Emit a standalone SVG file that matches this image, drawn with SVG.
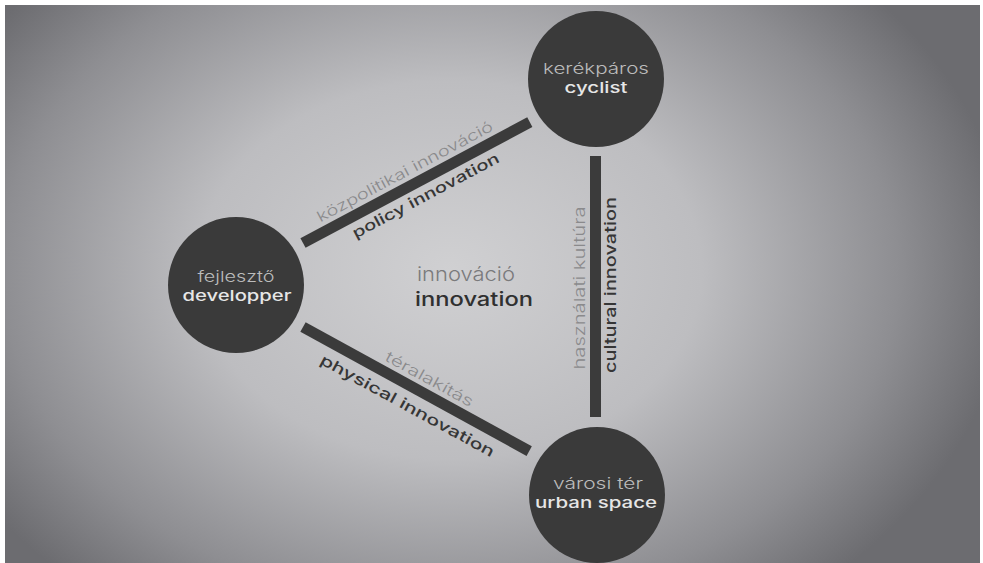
<svg xmlns="http://www.w3.org/2000/svg" width="983" height="563" viewBox="0 0 983 563">
<defs>
<radialGradient id="bg" gradientUnits="userSpaceOnUse" cx="0" cy="0" r="1" gradientTransform="translate(450 270) scale(560 420)">
<stop offset="0" stop-color="#d0d0d2"/>
<stop offset="0.45" stop-color="#bdbdc0"/>
<stop offset="0.8" stop-color="#8e8e92"/>
<stop offset="1" stop-color="#6c6c70"/>
</radialGradient>
<style>
.node{fill:#3a3a3a}
.bar{fill:#3b3b3b}
.t{font-family:Inter,"Liberation Sans",Arial,sans-serif;text-anchor:middle}
.nh{fill:#bcbcbc;font-size:15px;font-weight:300}
.ne{fill:#e6e6e6;font-size:15px;font-weight:500}
.lh{fill:#8a8a8c;font-size:15px;font-weight:300}
.le{fill:#363636;font-size:15px;font-weight:500}
</style>
</defs>
<rect x="0" y="0" width="983" height="563" fill="#ffffff"/>
<rect x="5" y="5" width="975" height="558" fill="url(#bg)"/>
<g id="connectors">
<g transform="translate(303 243) rotate(-28.05)">
<rect class="bar" x="0" y="-5.5" width="257" height="11"/>
<text class="t lh" x="123.5" y="-10" textLength="197" lengthAdjust="spacingAndGlyphs">közpolitikai innováció</text>
<text class="t le" x="130.6" y="21" textLength="164" lengthAdjust="spacingAndGlyphs">policy innovation</text>
</g>
<g transform="translate(303 327) rotate(28.75)">
<rect class="bar" x="0" y="-5.5" width="258" height="11"/>
<text class="t lh" x="136" y="-10" textLength="98" lengthAdjust="spacingAndGlyphs">téralakítás</text>
<text class="t le" x="129.5" y="24" textLength="196" lengthAdjust="spacingAndGlyphs">physical innovation</text>
</g>
<g>
<rect class="bar" x="590" y="156" width="11" height="261"/>
<text class="t lh" transform="translate(585 288) rotate(-90)" x="0" y="0" textLength="163" lengthAdjust="spacingAndGlyphs">használati kultúra</text>
<text class="t le" transform="translate(616 285) rotate(-90)" x="0" y="0" textLength="176" lengthAdjust="spacingAndGlyphs" style="font-size:16px">cultural innovation</text>
</g>
</g>
<g id="cyclist">
<circle class="node" cx="596" cy="79" r="68"/>
<text class="t nh" x="596" y="74" textLength="106" lengthAdjust="spacingAndGlyphs">kerékpáros</text>
<text class="t ne" x="596" y="93" textLength="63" lengthAdjust="spacingAndGlyphs">cyclist</text>
</g>
<g id="developer">
<circle class="node" cx="236" cy="285" r="68"/>
<text class="t nh" x="236" y="282" textLength="77" lengthAdjust="spacingAndGlyphs">fejlesztő</text>
<text class="t ne" x="237" y="301" textLength="109" lengthAdjust="spacingAndGlyphs">developper</text>
</g>
<g id="urban-space">
<circle class="node" cx="597" cy="495" r="68"/>
<text class="t nh" x="598" y="489" textLength="90" lengthAdjust="spacingAndGlyphs">városi tér</text>
<text class="t ne" x="596" y="508" textLength="122" lengthAdjust="spacingAndGlyphs">urban space</text>
</g>
<g id="innovation">
<text class="t" x="466" y="281" textLength="98" lengthAdjust="spacingAndGlyphs" style="fill:#7a7a7c;font-size:19px;font-weight:300">innováció</text>
<text class="t" x="474" y="306" textLength="118" lengthAdjust="spacingAndGlyphs" style="fill:#303030;font-size:19px;font-weight:500">innovation</text>
</g>
</svg>
